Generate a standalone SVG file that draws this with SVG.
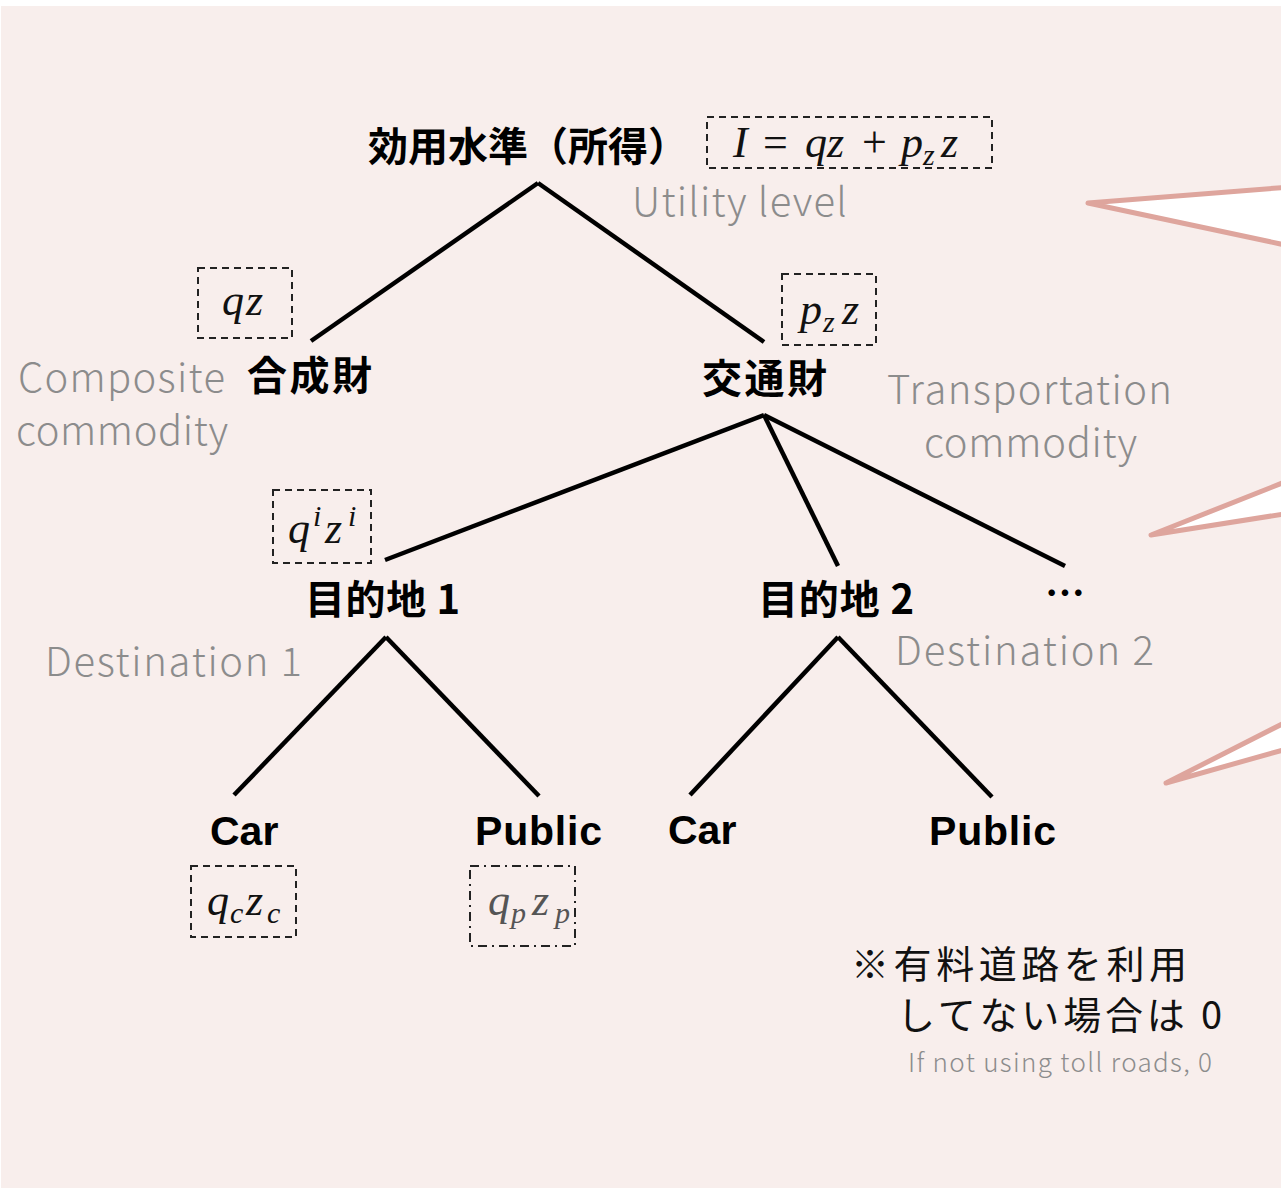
<svg xmlns="http://www.w3.org/2000/svg" width="1281" height="1189" viewBox="0 0 1281 1189">
<style>
.bg{fill:#f8eeec}
.jp{font-family:"Noto Sans CJK JP","Noto Sans",sans-serif;font-weight:700;font-size:40px;fill:#000}
.en{font-family:"Liberation Sans",Arial,sans-serif;font-weight:700;font-size:41px;fill:#000}
.gray{font-family:"Noto Sans CJK JP","Noto Sans",sans-serif;font-weight:300;font-size:40px;fill:#8c8c8c}
.note{font-family:"Noto Sans CJK JP","Noto Sans",sans-serif;font-weight:400;font-size:38px;fill:#111}
.small{font-family:"Noto Sans CJK JP","Noto Sans",sans-serif;font-weight:300;font-size:26px;fill:#8c8c8c}
.math{font-family:"Liberation Serif","Times New Roman",serif;font-style:italic;font-size:44px;fill:#111}
.up{font-style:normal}
.sb{font-size:30px}
.box{fill:none;stroke:#222;stroke-width:2;stroke-dasharray:7 5}
.box2{fill:none;stroke:#222;stroke-width:2;stroke-dasharray:9 5 2 5}
.edge{stroke:#000;stroke-width:4.5;stroke-linecap:butt;fill:none}
.wedge{fill:#fff;stroke:#dea59d;stroke-width:5;stroke-linejoin:round}
</style>
<rect class="bg" x="1" y="6" width="1280" height="1182"/>

<g id="wedges">
<polygon class="wedge" points="1088,203 1290,187 1290,246"/>
<polygon class="wedge" points="1151,535 1290,480 1290,513"/>
<polygon class="wedge" points="1166,783 1290,720 1290,748"/>
</g>

<g id="connectors">
<line class="edge" x1="538" y1="183" x2="311" y2="341"/>
<line class="edge" x1="538" y1="183" x2="764" y2="342"/>
<line class="edge" x1="764" y1="415" x2="385" y2="560"/>
<line class="edge" x1="764" y1="415" x2="838" y2="566"/>
<line class="edge" x1="764" y1="415" x2="1065" y2="566"/>
<line class="edge" x1="386" y1="637" x2="234" y2="795"/>
<line class="edge" x1="386" y1="637" x2="539" y2="796"/>
<line class="edge" x1="838" y1="637" x2="690" y2="795"/>
<line class="edge" x1="838" y1="637" x2="992" y2="797"/>
</g>

<g id="root">
<text class="jp" x="368" y="161">効用水準（所得）</text>
<rect class="box" x="707" y="117" width="285" height="51"/>
<text class="math" y="157"><tspan x="733">I</tspan><tspan class="up" x="763">=</tspan><tspan x="805">q</tspan><tspan x="827">z</tspan><tspan class="up" x="862">+</tspan><tspan x="901">p</tspan><tspan class="sb" x="923" dy="8">z</tspan><tspan x="941" dy="-8">z</tspan></text>
<text class="gray" x="632" y="216" textLength="215" lengthAdjust="spacing">Utility level</text>
</g>

<g id="composite">
<rect class="box" x="198" y="268" width="94" height="70"/>
<text class="math" y="315"><tspan x="222">q</tspan><tspan x="246">z</tspan></text>
<text class="jp" x="247" y="390" textLength="125" lengthAdjust="spacing">合成財</text>
<text class="gray" x="18" y="392" textLength="207" lengthAdjust="spacing">Composite</text>
<text class="gray" x="16" y="445" textLength="212" lengthAdjust="spacing">commodity</text>
</g>

<g id="transport">
<rect class="box" x="782" y="274" width="94" height="71"/>
<text class="math" y="324"><tspan x="800">p</tspan><tspan class="sb" x="823" dy="8">z</tspan><tspan x="842" dy="-8">z</tspan></text>
<text class="jp" x="702" y="393" textLength="125" lengthAdjust="spacing">交通財</text>
<text class="gray" x="887" y="404" textLength="285" lengthAdjust="spacing">Transportation</text>
<text class="gray" x="924" y="457" textLength="213" lengthAdjust="spacing">commodity</text>
</g>

<g id="dest1">
<rect class="box" x="273" y="490" width="98" height="73"/>
<text class="math" y="543"><tspan x="288">q</tspan><tspan class="sb" x="313" dy="-17">i</tspan><tspan x="325" dy="17">z</tspan><tspan class="sb" x="348" dy="-17">i</tspan></text>
<text class="jp" x="305" y="614" textLength="155" lengthAdjust="spacing">目的地 1</text>
<text class="gray" x="45" y="676" textLength="257" lengthAdjust="spacing">Destination 1</text>
</g>

<g id="dest2">
<text class="jp" x="758" y="614" textLength="156" lengthAdjust="spacing">目的地 2</text>
<text class="gray" x="895" y="665" textLength="259" lengthAdjust="spacing">Destination 2</text>
</g>

<g id="more">
<text class="jp" x="1045" y="608">…</text>
</g>

<g id="car1">
<text class="en" x="210" y="845">Car</text>
<rect class="box" x="191" y="866" width="105" height="71"/>
<text class="math" y="915"><tspan x="207">q</tspan><tspan class="sb" x="230" dy="8">c</tspan><tspan x="246" dy="-8">z</tspan><tspan class="sb" x="267" dy="8">c</tspan></text>
</g>

<g id="public1">
<text class="en" x="475" y="845" textLength="127" lengthAdjust="spacing">Public</text>
<rect class="box2" x="470" y="866" width="105" height="80"/>
<text class="math" y="915" style="fill:#555"><tspan x="488">q</tspan><tspan class="sb" x="511" dy="8">p</tspan><tspan x="532" dy="-8">z</tspan><tspan class="sb" x="555" dy="8">p</tspan></text>
</g>

<g id="car2">
<text class="en" x="668" y="844">Car</text>
</g>

<g id="public2">
<text class="en" x="929" y="845" textLength="127" lengthAdjust="spacing">Public</text>
</g>

<g id="note">
<text class="note" x="851" y="978" textLength="336" lengthAdjust="spacing">※有料道路を利用</text>
<text class="note" x="897" y="1029" textLength="325" lengthAdjust="spacing">してない場合は 0</text>
<text class="small" x="908" y="1072" textLength="304" lengthAdjust="spacing">If not using toll roads, 0</text>
</g>
</svg>
